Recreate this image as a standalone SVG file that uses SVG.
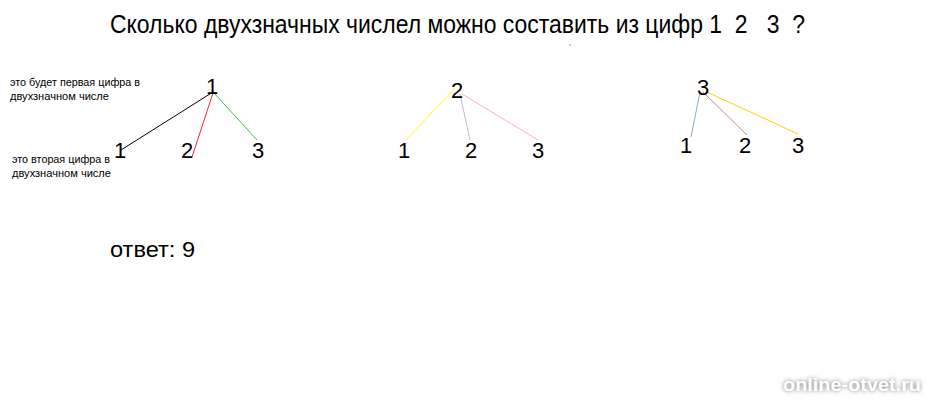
<svg xmlns="http://www.w3.org/2000/svg" width="928" height="400" viewBox="0 0 928 400">
<defs>
<style>
text{font-family:"Liberation Sans",Arial,sans-serif;fill:#000}
.d{font-size:22px}
.s{font-size:11px}
line{stroke-width:1}
</style>
<filter id="sh" x="-20%" y="-50%" width="140%" height="200%"><feGaussianBlur stdDeviation="2"/></filter>
</defs>
<rect width="928" height="400" fill="#fff"/>
<text id="title" x="110" y="33" font-size="25" textLength="695" lengthAdjust="spacingAndGlyphs" xml:space="preserve">Сколько двухзначных числел можно составить из цифр 1  2   3  ?</text>
<rect x="569" y="44" width="2" height="2" fill="#ccc"/>
<g id="connectors">
<line x1="213" y1="92" x2="121" y2="150" stroke="#000"/>
<line x1="213" y1="93" x2="192" y2="157" stroke="#ff2020"/>
<line x1="214" y1="93" x2="257" y2="140" stroke="#40c040"/>
<line x1="455" y1="88" x2="406" y2="140" stroke="#ffff00"/>
<line x1="460" y1="94" x2="470" y2="140" stroke="#c0c0c0"/>
<line x1="462" y1="94" x2="538" y2="140" stroke="#ffb0c8"/>
<line x1="700" y1="92" x2="691" y2="137" stroke="#88a8d8"/>
<line x1="703" y1="92" x2="747" y2="135" stroke="#c09080"/>
<line x1="707" y1="92" x2="798" y2="134" stroke="#ffd000"/>
</g>
<g id="tree1">
<text class="d" x="206" y="94">1</text>
<text class="d" x="114" y="158">1</text>
<text class="d" x="181" y="158">2</text>
<text class="d" x="252" y="158">3</text>
</g>
<g id="tree2">
<text class="d" x="451" y="98">2</text>
<text class="d" x="398" y="158">1</text>
<text class="d" x="465" y="158">2</text>
<text class="d" x="532" y="158">3</text>
</g>
<g id="tree3">
<text class="d" x="697" y="95">3</text>
<text class="d" x="680" y="153">1</text>
<text class="d" x="739" y="153">2</text>
<text class="d" x="792" y="153">3</text>
</g>
<g id="labels">
<text class="s" x="10" y="86" textLength="130" lengthAdjust="spacingAndGlyphs">это будет первая цифра в</text>
<text class="s" x="10" y="100" textLength="99" lengthAdjust="spacingAndGlyphs">двухзначном числе</text>
<text class="s" x="12" y="163" textLength="98" lengthAdjust="spacingAndGlyphs">это вторая цифра в</text>
<text class="s" x="12" y="177" textLength="99" lengthAdjust="spacingAndGlyphs">двухзначном числе</text>
</g>
<text id="answer" x="110" y="257" font-size="22" textLength="85" lengthAdjust="spacingAndGlyphs">ответ: 9</text>
<g id="watermark" font-weight="bold" font-size="18">
<text x="783" y="391" filter="url(#sh)" style="fill:#777" textLength="138" lengthAdjust="spacingAndGlyphs">online-otvet.ru</text>
<text x="783" y="391" style="fill:#fff" textLength="138" lengthAdjust="spacingAndGlyphs">online-otvet.ru</text>
</g>
</svg>
